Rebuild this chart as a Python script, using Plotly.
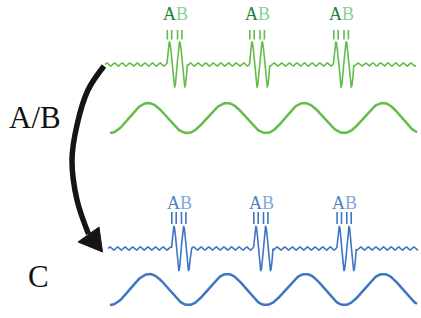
import numpy as np
import plotly.graph_objects as go

# ---- values (pixel units of the 421x318 canvas) ----
# smooth carrier waves: extremum positions
green_sine_x = [110, 148, 187, 227, 266, 304, 344, 383, 421]
green_sine_kind = [-1, 1, -1, 1, -1, 1, -1, 1, -1]      # -1 trough, 1 peak
green_sine_mid, green_sine_amp = 118.0, 15.0
green_sine_end = 418
blue_sine_x = [110, 149.3, 188.3, 227.3, 265.7, 305.7, 344.3, 383.3, 422]
blue_sine_kind = [-1, 1, -1, 1, -1, 1, -1, 1, -1]
blue_sine_mid, blue_sine_amp = 289.5, 15.5
blue_sine_end = 418

# rippled lines with pulses
green_ripple = dict(x0=105, x1=416, base=64.5, amp=1.6, period=7.6)
blue_ripple = dict(x0=108, x1=418, base=248.5, amp=1.6, period=7.6)
green_pulse_peaks = [169.5, 252.0, 336.0]      # first peak of each pulse
blue_pulse_peaks = [174.0, 256.0, 339.3]
green_pulse_period, green_pulse_amp = 10.2, 22.5
blue_pulse_period, blue_pulse_amp = 9.7, 22.0
green_tick_y = [30, 39.5]
blue_tick_y = [212, 224]
green_label_y = 14
blue_label_y = 203

# arrow
arrow_x = [104, 88, 77, 72, 77, 88.5]
arrow_y = [66, 90, 125, 160, 200, 234]
arrow_head_x = [78, 99, 102.5, 78]
arrow_head_y = [242, 227, 252, 242]

side_labels = ["A/B", "C"]
side_label_x = [35, 38]
side_label_y = [117, 276]

GREEN = "#62bd4a"
GREEN_A = "#1e7d3e"
GREEN_B = "#86cfa0"
BLUE = "#3f76c1"
BLUE_A = "#4a80c6"
BLUE_B = "#7ea8dc"

fig = go.Figure()


def sine_trace(xs, kinds, mid, amp, end, color):
    # half-cosine segments joining consecutive read extrema
    px, py = [], []
    for i in range(len(xs) - 1):
        xa, xb = xs[i], xs[i + 1]
        ya, yb = mid - kinds[i] * amp, mid - kinds[i + 1] * amp
        t = np.linspace(0, 1, 40)
        xx = xa + (xb - xa) * t
        yy = ya + (yb - ya) * (1 - np.cos(np.pi * t)) / 2
        keep = xx <= end
        px += list(xx[keep])
        py += list(yy[keep])
    fig.add_trace(go.Scatter(x=px, y=py, mode="lines", line=dict(color=color, width=2.5),
                             hoverinfo="skip", showlegend=False))


def ripple_trace(r, peaks, period, pamp, color):
    x = np.linspace(r["x0"], r["x1"], 3000)
    y = r["base"] - r["amp"] * np.sin(2 * np.pi * (x - r["x0"]) / r["period"])
    for p in peaks:
        start = p - period / 4
        end = start + 2 * period
        m = (x >= start) & (x <= end)
        y[m] = r["base"] - pamp * np.sin(2 * np.pi * (x[m] - start) / period)
    fig.add_trace(go.Scatter(x=x, y=y, mode="lines", line=dict(color=color, width=1.6),
                             hoverinfo="skip", showlegend=False))


def ticks_and_labels(peaks, period, tick_y, label_y, color, ca, cb):
    for p in peaks:
        p2 = p + period
        tx, ty = [], []
        for c in (p, p2):
            for d in (-2.2, 2.2):
                tx += [c + d, c + d, None]
                ty += [tick_y[0], tick_y[1], None]
        fig.add_trace(go.Scatter(x=tx, y=ty, mode="lines", line=dict(color=color, width=1.6),
                                 hoverinfo="skip", showlegend=False))
        fig.add_annotation(x=(p + p2) / 2 + 0.5, y=label_y, xref="x", yref="y", showarrow=False,
                           text=f"<span style='color:{ca}'>A</span><span style='color:{cb}'>B</span>",
                           font=dict(family="Liberation Serif", size=18))


sine_trace(green_sine_x, green_sine_kind, green_sine_mid, green_sine_amp, green_sine_end, GREEN)
sine_trace(blue_sine_x, blue_sine_kind, blue_sine_mid, blue_sine_amp, blue_sine_end, BLUE)
ripple_trace(green_ripple, green_pulse_peaks, green_pulse_period, green_pulse_amp, GREEN)
ripple_trace(blue_ripple, blue_pulse_peaks, blue_pulse_period, blue_pulse_amp, BLUE)
ticks_and_labels(green_pulse_peaks, green_pulse_period, green_tick_y, green_label_y, GREEN, GREEN_A, GREEN_B)
ticks_and_labels(blue_pulse_peaks, blue_pulse_period, blue_tick_y, blue_label_y, BLUE, BLUE_A, BLUE_B)

fig.add_trace(go.Scatter(x=arrow_x, y=arrow_y, mode="lines",
                         line=dict(color="#151515", width=5.5, shape="spline"),
                         hoverinfo="skip", showlegend=False))
fig.add_trace(go.Scatter(x=arrow_head_x, y=arrow_head_y, mode="lines", fill="toself",
                         fillcolor="#151515", line=dict(color="#151515", width=1),
                         hoverinfo="skip", showlegend=False))

for t, x, y in zip(side_labels, side_label_x, side_label_y):
    fig.add_annotation(x=x, y=y, xref="x", yref="y", text=t, showarrow=False,
                       font=dict(family="Liberation Serif", size=31, color="#111111"))

fig.update_layout(width=421, height=318, margin=dict(l=0, r=0, t=0, b=0),
                  paper_bgcolor="white", plot_bgcolor="white")
fig.update_xaxes(range=[0, 421], visible=False, fixedrange=True)
fig.update_yaxes(range=[318, 0], visible=False, fixedrange=True)

fig.write_html("out.html", config={"displayModeBar": False, "staticPlot": True},
               post_script="document.body.style.margin='0';document.body.style.overflow='hidden';")
